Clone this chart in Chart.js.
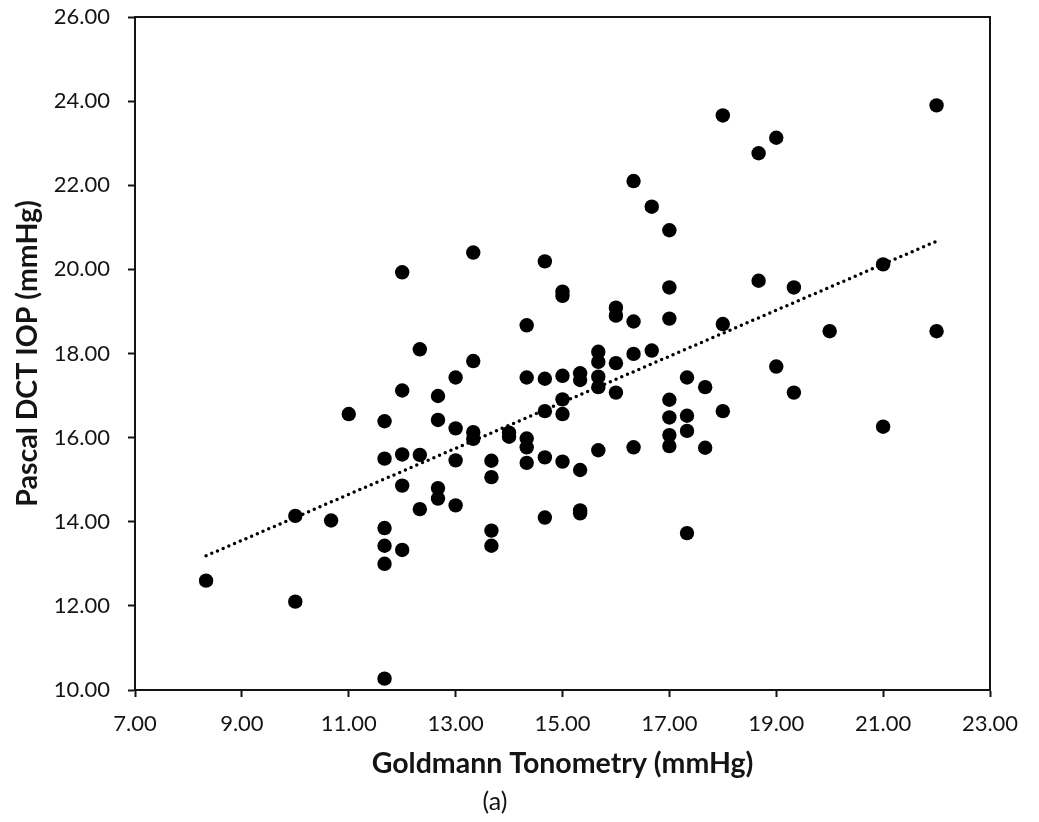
<!DOCTYPE html>
<html>
<head>
<meta charset="utf-8">
<script src="https://cdn.jsdelivr.net/npm/chart.js@4.4.1/dist/chart.umd.min.js"></script>
<style>
  html, body { margin: 0; padding: 0; background: #fff; }
  #wrap { width: 1039px; height: 822px; }
</style>
</head>
<body>
<div id="wrap"><canvas id="chartIop"></canvas></div>
<script>
// Goldmann tonometry (x) vs Pascal DCT IOP (y), mmHg
const goldmann = [
  8.33, 10, 10, 10.67, 11,
  11.67, 11.67, 11.67, 11.67, 11.67, 11.67,
  12, 12, 12, 12, 12,
  12.33, 12.33, 12.33,
  12.67, 12.67, 12.67, 12.67,
  13, 13, 13, 13,
  13.33, 13.33, 13.33, 13.33,
  13.67, 13.67, 13.67, 13.67,
  14, 14,
  14.33, 14.33, 14.33, 14.33, 14.33,
  14.67, 14.67, 14.67, 14.67, 14.67,
  15, 15, 15, 15, 15, 15,
  15.33, 15.33, 15.33, 15.33, 15.33,
  15.67, 15.67, 15.67, 15.67, 15.67,
  16, 16, 16, 16,
  16.33, 16.33, 16.33, 16.33,
  16.67, 16.67,
  17, 17, 17, 17, 17, 17, 17,
  17.33, 17.33, 17.33, 17.33,
  17.67, 17.67,
  18, 18, 18,
  18.67, 18.67,
  19, 19,
  19.33, 19.33,
  20,
  21, 21,
  22, 22
];
const pascal = [
  12.6, 14.14, 12.1, 14.03, 16.56,
  16.39, 15.5, 13.85, 13.43, 13.0, 10.27,
  19.93, 17.12, 15.6, 14.86, 13.33,
  18.1, 15.59, 14.3,
  16.99, 16.42, 14.8, 14.55,
  17.43, 16.22, 15.46, 14.39,
  20.4, 17.82, 16.13, 15.97,
  15.45, 15.06, 13.79, 13.43,
  16.12, 16.02,
  18.67, 17.43, 15.98, 15.77, 15.4,
  20.19, 17.4, 16.63, 15.53, 14.1,
  19.47, 19.37, 17.47, 16.91, 16.56, 15.43,
  17.53, 17.37, 15.23, 14.27, 14.2,
  18.04, 17.8, 17.45, 17.2, 15.7,
  19.09, 18.9, 17.77, 17.07,
  22.1, 18.76, 17.99, 15.77,
  21.49, 18.07,
  20.93, 19.57, 18.83, 16.9, 16.48, 16.06, 15.8,
  17.43, 16.52, 16.16, 13.73,
  17.2, 15.76,
  23.66, 18.7, 16.63,
  22.76, 19.73,
  23.13, 17.69,
  19.57, 17.07,
  18.53,
  20.12, 16.26,
  23.9, 18.53
];

// linear trendline end points as drawn
const trendX = [8.33, 22];
const trendY = [13.19, 20.67];

const xTicks = [7, 9, 11, 13, 15, 17, 19, 21, 23];
const yTicks = [10, 12, 14, 16, 18, 20, 22, 24, 26];

const tinta = "#141414";
const fuenteTicks = { family: "Lato", size: 22 };
const fuenteTitulo = { family: "Lato", size: 28.5, weight: "bold" };

const puntos = goldmann.map((x, i) => ({ x: x, y: pascal[i] }));
const tendencia = trendX.map((x, i) => ({ x: x, y: trendY[i] }));

new Chart(document.getElementById("chartIop"), {
  type: "scatter",
  data: {
    datasets: [
      {
        label: "IOP",
        data: puntos,
        pointRadius: 7.2,
        pointHoverRadius: 7.2,
        pointBackgroundColor: "#000",
        pointBorderWidth: 0,
        order: 2
      },
      {
        type: "line",
        label: "Trend",
        data: tendencia,
        borderColor: "#000",
        borderWidth: 3.5,
        borderDash: [0, 6.2],
        borderCapStyle: "round",
        pointRadius: 0,
        fill: false,
        order: 1
      }
    ]
  },
  options: {
    responsive: true,
    maintainAspectRatio: false,
    animation: false,
    events: [],
    layout: { padding: { left: 0, right: 49, top: 17, bottom: 0 } },
    plugins: {
      legend: { display: false },
      tooltip: { enabled: false },
      title: {
        display: true,
        position: "bottom",
        text: "(a)",
        color: tinta,
        font: { family: "Lato", size: 25, weight: "normal" },
        padding: { top: 0, bottom: 5 }
      }
    },
    scales: {
      x: {
        type: "linear",
        position: "bottom",
        min: 7,
        max: 23,
        afterBuildTicks: (s) => { s.ticks = xTicks.map(v => ({ value: v })); },
        afterFit: (s) => { s.height = 97; },
        ticks: {
          color: tinta,
          font: fuenteTicks,
          padding: 14,
          maxRotation: 0,
          callback: (v) => Number(v).toFixed(2)
        },
        grid: {
          drawOnChartArea: false,
          drawTicks: true,
          tickLength: 7,
          tickWidth: 2,
          tickColor: tinta
        },
        border: { display: true, color: tinta, width: 2 },
        title: {
          display: true,
          text: "Goldmann Tonometry (mmHg)",
          color: tinta,
          font: fuenteTitulo,
          padding: { top: 0, bottom: 6 }
        }
      },
      y: {
        type: "linear",
        position: "left",
        min: 10,
        max: 26,
        afterBuildTicks: (s) => { s.ticks = yTicks.map(v => ({ value: v })); },
        afterFit: (s) => {
          s.width = 135;
          // let the layout padding decide where the plot box starts
          s.paddingTop = 0;
          s.paddingBottom = 0;
        },
        ticks: {
          color: tinta,
          font: fuenteTicks,
          padding: 18,
          callback: (v) => Number(v).toFixed(2)
        },
        grid: {
          drawOnChartArea: false,
          drawTicks: true,
          tickLength: 7,
          tickWidth: 2,
          tickColor: tinta
        },
        border: { display: true, color: tinta, width: 2 },
        title: {
          display: true,
          text: "Pascal DCT IOP (mmHg)",
          color: tinta,
          font: fuenteTitulo,
          padding: { top: 11, bottom: 0 }
        }
      },
      xTop: {
        type: "linear",
        position: "top",
        min: 7,
        max: 23,
        afterFit: (s) => { s.height = 0; },
        ticks: { display: false },
        grid: { display: false },
        border: { display: true, color: tinta, width: 2 }
      },
      yRight: {
        type: "linear",
        position: "right",
        min: 10,
        max: 26,
        afterFit: (s) => { s.width = 0; s.paddingTop = 0; s.paddingBottom = 0; },
        ticks: { display: false },
        grid: { display: false },
        border: { display: true, color: tinta, width: 2 }
      }
    }
  }
});
</script>
</body>
</html>
